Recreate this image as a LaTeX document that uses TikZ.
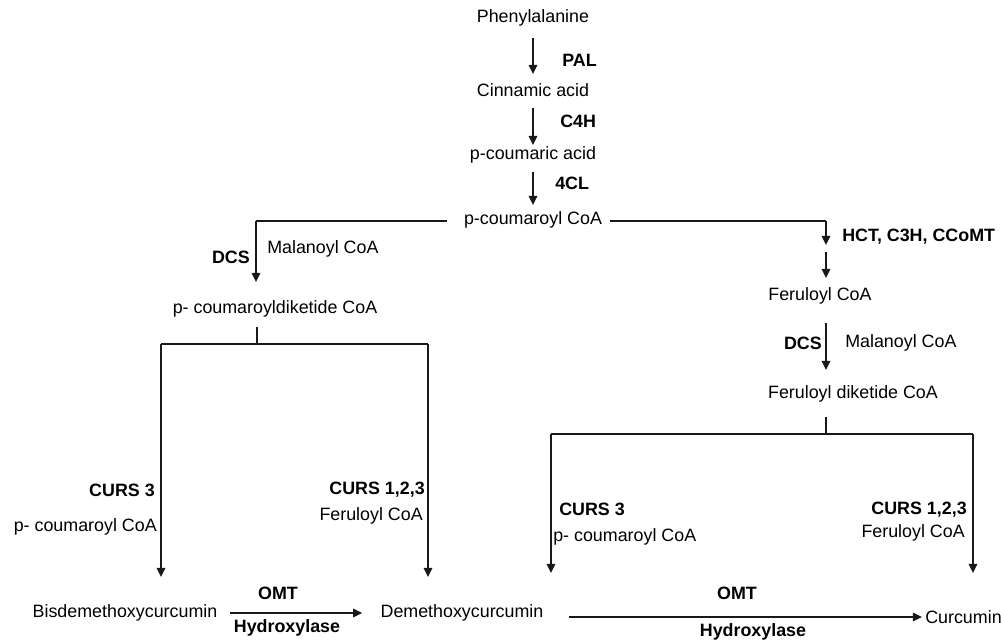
\documentclass[tikz,border=0pt]{standalone}
\usepackage{fontspec}
\setmainfont{Liberation Sans}
\usetikzlibrary{arrows.meta,calc}
\begin{document}
\begin{tikzpicture}[x=0.025cm,y=-0.025cm,
  every node/.style={inner sep=0pt, font=\fontsize{12.7}{15}\selectfont},
  lab/.style={font=\fontsize{12.7}{15}\selectfont\bfseries},
  line/.style={line width=1.3pt, draw=black!90},
  arr/.style={line, -{Triangle[length=6.5pt,width=6pt]}}]
\useasboundingbox (0,0) rectangle (1001,643);

% main trunk
\node (phe)  at (533,18)  {Phenylalanine};
\node (cin)  at (533,90)  {Cinnamic acid};
\node (pca)  at (533,155) {p-coumaric acid};
\node (pcoa) at (533,220) {p-coumaroyl CoA};
\node[lab,anchor=west] (pal) at (562,60)  {PAL};
\node[lab,anchor=west] (c4h) at (560,121) {C4H};
\node[lab,anchor=west] (fcl) at (555,183) {4CL};

\draw[arr] ($(phe.center)+(0,20)$) -- ($(cin.center)+(0,-16)$);
\draw[arr] ($(cin.center)+(0,18)$) -- ($(pca.center)+(0,-10)$);
\draw[arr] ($(pca.center)+(0,17)$) -- ($(pcoa.center)+(0,-15)$);

% left branch
\node (ldk) at (275,309) {p- coumaroyldiketide CoA};
\node[lab,anchor=east] (dcsl) at (250,257) {DCS};
\node[anchor=west] (mall) at (267,249) {Malanoyl CoA};
\coordinate (lcorner) at (256,221);
\draw[line] ($(pcoa.center)+(-86,1)$) -- (lcorner);
\draw[arr] (lcorner) -- ++(0,61);

\draw[line] ($(ldk.center)+(-18,18)$) -- ($(ldk.center)+(-18,35)$);
\coordinate (lbl) at (161,344);
\coordinate (lbr) at (428,344);
\draw[line] (lbl) -- (lbr);

\node (bdmc) at (125,613) {Bisdemethoxycurcumin};
\node (dmc)  at (462,613) {Demethoxycurcumin};
\draw[arr] (lbl) -- ++(0,233);
\draw[arr] (lbr) -- ++(0,233);
\node[lab,anchor=east] (curs3l) at (155,490) {CURS 3};
\node[anchor=east] (pcl) at (157,527) {p- coumaroyl CoA};
\node[lab,anchor=east] (curs123l) at (425,490) {CURS 1,2,3};
\node[anchor=east] (fcl2) at (423,516) {Feruloyl CoA};

\draw[arr] ($(bdmc.east)+(12,0)$) -- ($(dmc.west)+(-18,0)$);
\node[lab] (omtl) at (278,593) {OMT};
\node[lab] (hydl) at (287,628) {Hydroxylase};

% right branch
\coordinate (rcorner) at (826,221);
\draw[line] ($(pcoa.center)+(77,1)$) -- (rcorner);
\draw[arr] (rcorner) -- ++(0,24);
\node[lab,anchor=west] (hct) at (842,237) {HCT, C3H, CCoMT};
\node (fer) at (820,296) {Feruloyl CoA};
\draw[arr] (826,252) -- ++(0,26);

\node (fdk) at (853,394) {Feruloyl diketide CoA};
\node[lab,anchor=east] (dcsr) at (822,343) {DCS};
\node[anchor=west] (malr) at (845,343) {Malanoyl CoA};
\draw[arr] (826,323) -- ++(0,47);

\draw[line] (826,417) -- (826,434);
\coordinate (rbl) at (551,434);
\coordinate (rbr) at (973,434);
\draw[line] (rbl) -- (rbr);

\node[anchor=west] (cur) at (925,617) {Curcumin};
\draw[arr] (rbl) -- ++(0,139);
\draw[arr] (rbr) -- ++(0,139);
\node[lab,anchor=west] (curs3r) at (559,509) {CURS 3};
\node[anchor=west] (pcr) at (553,537) {p- coumaroyl CoA};
\node[lab,anchor=east] (curs123r) at (967,510) {CURS 1,2,3};
\node[anchor=east] (fcr) at (965,533) {Feruloyl CoA};

\draw[arr] ($(dmc.east)+(25,4)$) -- ($(cur.west)+(-3,0)$);
\node[lab] (omtr) at (737,593) {OMT};
\node[lab] (hydr) at (753,632) {Hydroxylase};
\end{tikzpicture}
\end{document}
